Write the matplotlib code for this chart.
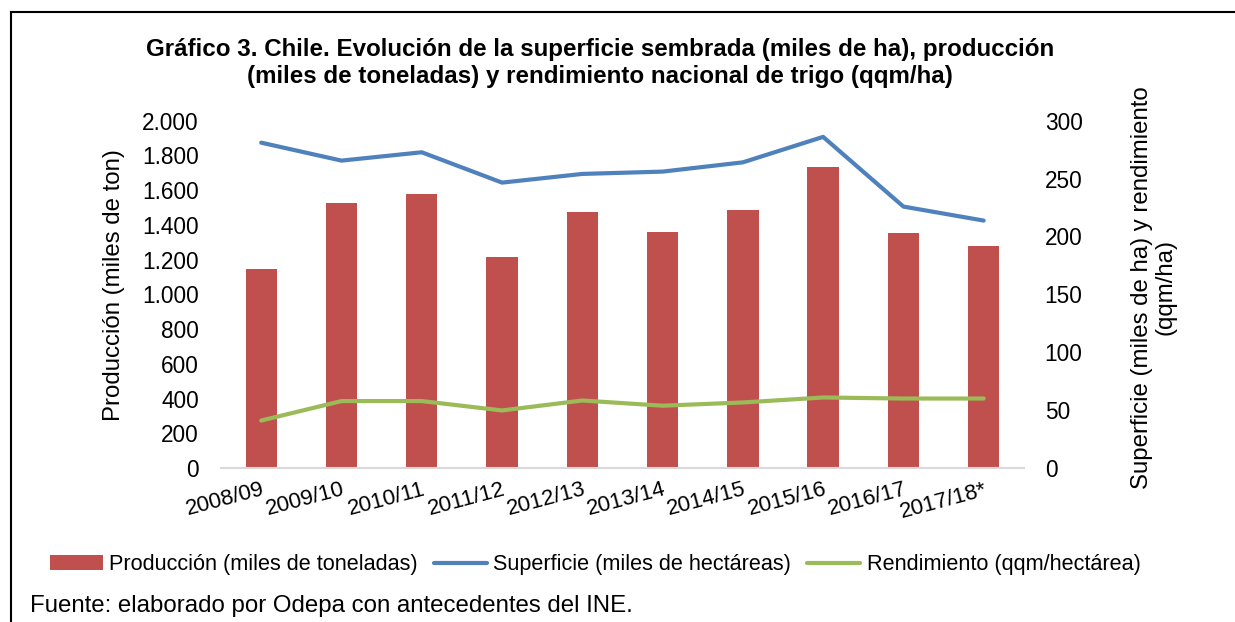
import matplotlib
matplotlib.use('Agg')
import matplotlib.pyplot as plt
from matplotlib.lines import Line2D
import numpy as np

plt.rcParams['font.family'] = ['Liberation Sans', 'DejaVu Sans']

temporadas = ['2008/09', '2009/10', '2010/11', '2011/12', '2012/13',
              '2013/14', '2014/15', '2015/16', '2016/17', '2017/18*']
produccion = [1145, 1525, 1576, 1216, 1475, 1360, 1486, 1734, 1352, 1281]
superficie = [281, 265.5, 272.7, 246.5, 254, 256, 264, 286, 225.8, 213.7]
rendimiento = [41, 57.8, 57.8, 49.7, 58.3, 53.8, 56.6, 60.9, 60, 60]

c_bar = '#C0504D'
c_sup = '#4F81BD'
c_ren = '#9BBB59'

fig = plt.figure(figsize=(12.35, 6.22), dpi=100)
ax = fig.add_axes([0.179, 0.2476, 0.650, 0.5584])
ax2 = ax.twinx()

x = np.arange(len(temporadas))
ax.bar(x, produccion, width=0.39, color=c_bar, label='Producción (miles de toneladas)')
ax2.plot(x, superficie, color=c_sup, lw=3, solid_capstyle='round', label='Superficie (miles de hectáreas)')
ax2.plot(x, rendimiento, color=c_ren, lw=3, solid_capstyle='round', label='Rendimiento (qqm/hectárea)')

ax.set_xlim(-0.5, len(temporadas) - 0.5)
ax.set_ylim(0, 2000)
ax2.set_ylim(0, 300)
ax.set_yticks(range(0, 2001, 200))
ax.set_yticklabels([f'{v:,}'.replace(',', '.') for v in range(0, 2001, 200)])
ax2.set_yticks(range(0, 301, 50))

for a in (ax, ax2):
    for s in a.spines.values():
        s.set_visible(False)
ax.spines['bottom'].set_visible(True)
ax.spines['bottom'].set_color('#D9D9D9')
ax.spines['bottom'].set_linewidth(1.5)

ax.tick_params(axis='y', length=0, pad=16, labelsize=16.3)
ax2.tick_params(axis='y', length=0, pad=15, labelsize=16.3)
ax.tick_params(axis='x', length=0, pad=8, labelsize=16)
ax.set_xticks(x)
ax.set_xticklabels(temporadas, rotation=15, ha='right', va='top', rotation_mode='anchor')

ax.set_ylabel('Producción (miles de ton)', fontsize=17.3)
ax.yaxis.set_label_coords(-0.12, 0.527)
ax2.set_ylabel('Superficie (miles de ha) y rendimiento\n(qqm/ha)', fontsize=17.3,
               rotation=90, linespacing=1.05)
ax2.yaxis.set_label_coords(1.134, 0.52)

fig.text(600 / 1235, 1 - 63 / 622, 'Gráfico 3. Chile. Evolución de la superficie sembrada (miles de ha), producción\n'
         '(miles de toneladas) y rendimiento nacional de trigo (qqm/ha)',
         ha='center', va='center', fontsize=17.4, fontweight='bold', linespacing=1.2)

h1, l1 = ax.get_legend_handles_labels()
h2, l2 = ax2.get_legend_handles_labels()
fig.legend(h1 + h2, l1 + l2, loc='center', bbox_to_anchor=(0.482, 0.092), ncol=3,
           frameon=False, fontsize=15.6, handlelength=2.45, handletextpad=0.28,
           columnspacing=0.75)

fig.text(30 / 1235, 1 - 606 / 622, 'Fuente: elaborado por Odepa con antecedentes del INE.',
         ha='left', va='center', fontsize=17.3)

# marco superior e izquierdo
fig.add_artist(Line2D([10.5 / 1235, 1], [1 - 12 / 622, 1 - 12 / 622], color='black', lw=1.5,
                      transform=fig.transFigure))
fig.add_artist(Line2D([10.5 / 1235, 10.5 / 1235], [0, 1 - 12 / 622], color='black', lw=1.5,
                      transform=fig.transFigure))

fig.savefig('out.png', dpi=100)
